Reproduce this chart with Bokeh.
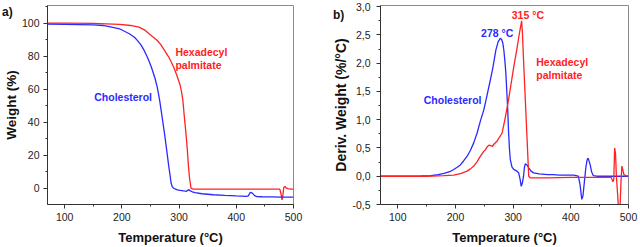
from bokeh.plotting import figure
from bokeh.layouts import row
from bokeh.models import FixedTicker, CustomJSTickFormatter, Div, Range1d
from bokeh.core.properties import value
from bokeh.embed import file_html
from bokeh.resources import INLINE

# ---- Panel a: TGA weight (%) ----
chol_T = [70, 100, 150, 167, 180, 196, 213, 222, 227, 233, 239, 245, 251.5, 258, 262, 266, 270,
          274.5, 278, 282, 284, 286, 288, 290, 293, 297, 302, 308, 313, 316.5, 319, 323, 328,
          340, 360, 380, 400, 409, 418, 421, 424.5, 428, 432, 436, 445, 460, 480, 500]
chol_W = [99.4, 99.3, 99.0, 98.6, 97.8, 96.6, 93.6, 91.5, 89.6, 87.0, 83.5, 79.0, 73.5, 66.5,
          61.0, 53.4, 44.0, 33.3, 24.0, 13.3, 8.5, 3.2, 1.0, 0.2, -0.4, -0.9, -1.3, -1.6, -1.8,
          -0.8, -1.4, -2.1, -2.6, -3.3, -3.9, -4.3, -4.6, -4.7, -4.9, -4.6, -2.4, -2.9, -4.4,
          -5.0, -5.1, -5.2, -5.3, -5.3]

hexa_T = [70, 100, 150, 196, 215, 230, 240, 247.5, 255, 262, 268, 274.5, 282, 290.5, 296,
          301, 304, 306.6, 309, 312, 314.5, 316.4, 318.5, 321, 325, 350, 400, 450, 476, 478,
          480, 481.5, 483, 485, 487, 490, 495, 500]
hexa_W = [100, 100, 99.9, 99.3, 98.6, 97.6, 95.8, 93.6, 91.5, 89.5, 87.0, 83.5, 79.5, 73.5,
          68.5, 63.5, 59.0, 53.4, 44.0, 33.3, 23.0, 13.3, 5.5, 0.0, -0.5, -0.5, -0.5, -0.5,
          -0.5, -3.0, -7.0, -4.0, 0.5, 1.2, 0.3, -0.2, -0.5, -0.5]

# ---- Panel b: DTG (%/°C) ----
chol_dT = [70, 100, 140, 157, 170, 180, 190, 197, 203, 208.5, 214, 220, 226, 231.6, 237.4, 243,
           249, 253, 260, 265, 270, 274, 277.8, 280, 282, 284, 286, 287.5, 289, 290.5, 292,
           293.5, 295, 298, 301, 305, 309.5, 312, 314, 316, 318, 319.5, 321, 324, 327, 331,
           335.5, 345, 360, 370, 380, 395, 405, 413, 416, 419, 421, 424, 426, 428, 430,
           433.6, 436, 439, 445, 460, 480, 500]
chol_D = [0, 0, 0.005, 0.01, 0.03, 0.05, 0.08, 0.12, 0.16, 0.2, 0.27, 0.35, 0.46, 0.59, 0.76,
          0.97, 1.17, 1.35, 1.68, 1.93, 2.23, 2.38, 2.44, 2.42, 2.36, 2.22, 2.0, 1.8, 1.5, 1.2,
          0.8, 0.5, 0.3, 0.16, 0.12, 0.1, 0.06, -0.05, -0.18, -0.12, 0.0, 0.15, 0.22, 0.2, 0.15,
          0.09, 0.06, 0.04, 0.03, 0.03, 0.02, 0.02, 0.02, 0.0, -0.15, -0.41, -0.35, -0.05, 0.15,
          0.28, 0.32, 0.2, 0.08, 0.01, 0.0, 0.0, 0.0, 0.0]

hexa_dT = [70, 100, 150, 180, 197, 210, 220, 226, 231.6, 237, 243, 249, 252, 255, 258, 261,
           264, 267, 272, 280.7, 286, 292, 301, 306, 310.7, 313, 314.7, 316, 318, 321, 324,
           327, 330, 335, 360, 400, 440, 470, 473, 474.5, 476, 477.5, 479, 481, 482.5, 484,
           485.5, 487, 488.5, 490, 492, 495, 500]
hexa_D = [0, 0, 0, 0.01, 0.02, 0.05, 0.09, 0.13, 0.18, 0.25, 0.35, 0.44, 0.47, 0.52, 0.55,
          0.54, 0.53, 0.57, 0.62, 0.76, 1.02, 1.35, 1.93, 2.22, 2.52, 2.65, 2.75, 2.55, 2.06,
          1.37, 0.69, 0.0, -0.03, -0.03, -0.03, -0.02, -0.02, -0.02, -0.1, -0.05, 0.5, 0.4,
          0.0, -0.3, -0.55, -0.6, -0.5, -0.1, 0.18, 0.12, 0.03, 0.01, 0.0]

x_ticks = [100, 200, 300, 400, 500]
x_minor = [150, 250, 350, 450]
ya_ticks = [0, 20, 40, 60, 80, 100]
ya_minor = [-10, 10, 30, 50, 70, 90, 110]
yb_ticks = [-0.5, 0.0, 0.5, 1.0, 1.5, 2.0, 2.5, 3.0]
yb_minor = [-0.25, 0.25, 0.75, 1.25, 1.75, 2.25, 2.75]

RED = "#ff2222"
BLUE = "#2a2aff"
FONT = "Liberation Sans"


def style(p):
    p.xgrid.visible = False
    p.ygrid.visible = False
    p.outline_line_color = "#8a8a8a"
    p.outline_line_width = 1
    p.background_fill_color = "white"
    p.border_fill_color = "white"
    for ax in (p.xaxis[0], p.yaxis[0]):
        ax.axis_line_color = "#333333"
        ax.major_tick_line_color = "#333333"
        ax.minor_tick_line_color = "#333333"
        ax.major_tick_in = 0
        ax.major_tick_out = 4
        ax.minor_tick_in = 0
        ax.minor_tick_out = 2
        ax.major_label_text_font = FONT
        ax.major_label_text_font_size = "10.5px"
        ax.major_label_text_color = "#222222"
        ax.axis_label_text_font = FONT
        ax.axis_label_text_font_style = "bold"
        ax.axis_label_text_color = "#111111"
    p.xaxis[0].ticker = FixedTicker(ticks=x_ticks, minor_ticks=x_minor)
    p.xaxis[0].axis_label = "Temperature (°C)"
    p.xaxis[0].axis_label_text_font_size = "13px"
    p.xaxis[0].major_label_standoff = 4
    p.xaxis[0].axis_label_standoff = 6


def add_text(p, x, y, txt, color):
    p.text(x=[x], y=[y], text=[txt], text_color=color, text_font=value(FONT),
           text_font_style="bold", text_font_size="10.5px", text_baseline="middle",
           text_align="left")


def tag(txt, left, top):
    return Div(text=txt, styles={"position": "absolute", "left": f"{left}px",
                                 "top": f"{top}px", "margin": "0", "padding": "0",
                                 "font-family": FONT, "font-weight": "bold",
                                 "font-size": "12px", "line-height": "12px",
                                 "color": "#111111", "white-space": "nowrap",
                                 "z-index": "10"})


# Panel a
pa = figure(width=320, height=247, output_backend="svg", toolbar_location=None,
            x_range=Range1d(70, 500), y_range=Range1d(-9.8, 110.7),
            min_border_left=45, min_border_right=27, min_border_top=5, min_border_bottom=42)
style(pa)
pa.yaxis[0].ticker = FixedTicker(ticks=ya_ticks, minor_ticks=ya_minor)
pa.yaxis[0].axis_label = "Weight (%)"
pa.yaxis[0].axis_label_text_font_size = "13.5px"
pa.yaxis[0].major_label_standoff = 4
pa.yaxis[0].axis_label_standoff = 0
pa.line(hexa_T, hexa_W, line_color=RED, line_width=1.3)
pa.line(chol_T, chol_W, line_color=BLUE, line_width=1.3)
add_text(pa, 293.6, 82.5, "Hexadecyl", RED)
add_text(pa, 293.6, 74.9, "palmitate", RED)
add_text(pa, 151.7, 55.4, "Cholesterol", BLUE)

# Panel b
pb = figure(width=320, height=247, output_backend="svg", toolbar_location=None,
            x_range=Range1d(70, 500), y_range=Range1d(-0.5, 3.02),
            min_border_left=60, min_border_right=12, min_border_top=5, min_border_bottom=42)
style(pb)
pb.yaxis[0].ticker = FixedTicker(ticks=yb_ticks, minor_ticks=yb_minor)
pb.yaxis[0].formatter = CustomJSTickFormatter(code="return tick.toFixed(1).replace('.', ',');")
pb.yaxis[0].axis_label = "Deriv. Weight (%/°C)"
pb.yaxis[0].axis_label_text_font_size = "14px"
pb.yaxis[0].major_label_standoff = 6
pb.yaxis[0].axis_label_standoff = 0
pb.line(chol_dT, chol_D, line_color=BLUE, line_width=1.3)
pb.line(hexa_dT, hexa_D, line_color=RED, line_width=1.3)
pb.text(x=[272.3], y=[2.54], text=["278 °C"], text_color=BLUE, text_font=value(FONT),
        text_font_style="bold", text_font_size="10.5px", text_baseline="middle",
        text_align="center")
pb.text(x=[325.5], y=[2.86], text=["315 °C"], text_color=RED, text_font=value(FONT),
        text_font_style="bold", text_font_size="10.5px", text_baseline="middle",
        text_align="center")
add_text(pb, 340, 2.02, "Hexadecyl", RED)
add_text(pb, 340, 1.79, "palmitate", RED)
add_text(pb, 145, 1.34, "Cholesterol", BLUE)

layout = row(pa, pb, tag("a)", 2, 6), tag("b)", 333, 9))

open("out.html", "w").write(file_html(layout, INLINE))
